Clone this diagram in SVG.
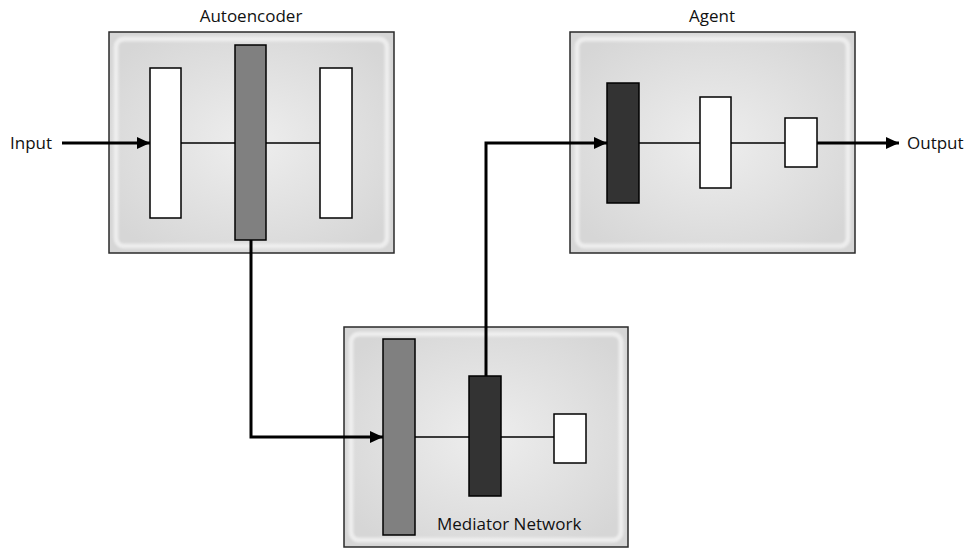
<svg xmlns="http://www.w3.org/2000/svg" width="968" height="549" viewBox="0 0 968 549">
<style>
.box{fill:url(#bg);stroke:#2a2a2a;stroke-width:1.5}
.hl{fill:none;stroke:#f4f4f4;stroke-width:5;opacity:0.75;filter:url(#blur)}
.layer{stroke:#000;stroke-width:1.5}
.w{fill:#fff}.g{fill:#808080}.d{fill:#333}
.thin{stroke:#000;stroke-width:1.5;fill:none}
.conn{stroke:#000;stroke-width:3;fill:none}
text{font-family:"Open Sans","Noto Sans",sans-serif;font-size:17px;fill:#111}
</style>
<defs>
<radialGradient id="bg" cx="50%" cy="50%" r="60%">
<stop offset="0" stop-color="#eeeeee"/>
<stop offset="1" stop-color="#d6d6d6"/>
</radialGradient>
<filter id="blur" x="-5%" y="-5%" width="110%" height="110%"><feGaussianBlur stdDeviation="1.2"/></filter>
<marker id="ah" viewBox="0 0 13 12" refX="13" refY="6" markerWidth="13" markerHeight="12" markerUnits="userSpaceOnUse" orient="auto">
<path d="M0,0 L13,6 L0,12 Z" fill="#000"/>
</marker>
</defs>
<rect width="968" height="549" fill="#fff"/>

<g id="autoencoder">
<rect class="box" x="109" y="32" width="285" height="221"/>
<rect class="hl" x="116" y="39" width="271" height="207" rx="8"/>
<text x="251" y="22" text-anchor="middle">Autoencoder</text>
<line class="thin" x1="181" y1="143" x2="320" y2="143"/>
<rect class="layer w" x="150" y="68" width="31" height="150"/>
<rect class="layer g" x="235" y="45" width="31" height="195"/>
<rect class="layer w" x="320" y="68" width="32" height="150"/>
</g>

<g id="agent">
<rect class="box" x="570" y="32" width="285" height="221"/>
<rect class="hl" x="577" y="39" width="271" height="207" rx="8"/>
<text x="712" y="22" text-anchor="middle">Agent</text>
<line class="thin" x1="639" y1="143" x2="785" y2="143"/>
<rect class="layer d" x="607" y="83" width="32" height="120"/>
<rect class="layer w" x="700" y="97" width="31" height="91"/>
<rect class="layer w" x="785" y="118" width="32" height="49"/>
</g>

<g id="mediator">
<rect class="box" x="344" y="327" width="284" height="220"/>
<rect class="hl" x="351" y="334" width="270" height="206" rx="8"/>
<line class="thin" x1="415" y1="437" x2="554" y2="437"/>
<rect class="layer g" x="383" y="339" width="32" height="196"/>
<rect class="layer d" x="469" y="376" width="32" height="120"/>
<rect class="layer w" x="554" y="414" width="32" height="49"/>
<text x="437" y="530">Mediator Network</text>
</g>

<g id="io">
<text x="10" y="149">Input</text>
<text x="907" y="149">Output</text>
</g>

<g id="connectors">
<path class="conn" d="M62,143 H150" marker-end="url(#ah)"/>
<path class="conn" d="M251,240 V437 H383" marker-end="url(#ah)"/>
<path class="conn" d="M486,376 V143 H607" marker-end="url(#ah)"/>
<path class="conn" d="M817,143 H899" marker-end="url(#ah)"/>
</g>
</svg>
